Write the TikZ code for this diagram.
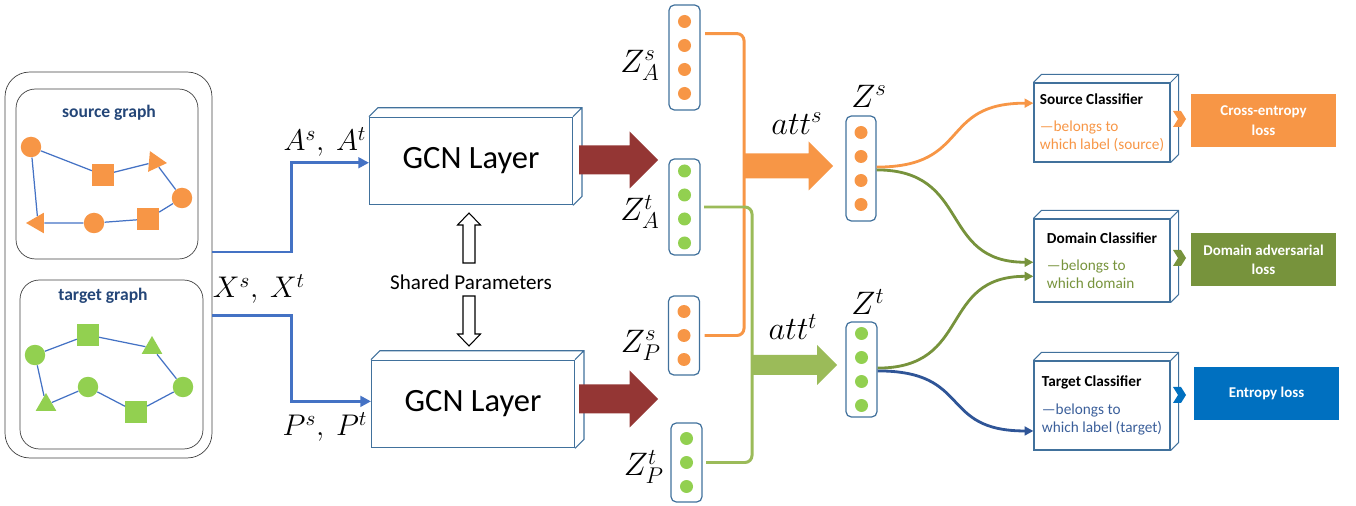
\documentclass[tikz,border=0pt]{standalone}
\usepackage{fix-cm}
\usepackage{fontspec}
\setmainfont{Carlito}
\usetikzlibrary{shapes.geometric, arrows.meta, positioning, calc}
\definecolor{srcorange}{RGB}{247, 150, 70}
\definecolor{tgtgreen}{RGB}{146, 208, 80}
\definecolor{attgreen}{RGB}{155, 187, 89}
\definecolor{domgreen}{RGB}{119, 147, 60}
\definecolor{gcnred}{RGB}{148, 54, 52}
\definecolor{edgeblue}{RGB}{68, 114, 196}
\definecolor{frameblue}{RGB}{65, 113, 156}
\definecolor{titleblue}{RGB}{36, 70, 120}
\definecolor{tgtblue}{RGB}{59, 95, 154}
\definecolor{curveblue}{RGB}{47, 85, 151}
\definecolor{entblue}{RGB}{0, 112, 192}

% side and top faces of a box node
\newcommand{\depthfaces}[2]{%
  \draw[frameblue, line width=0.6pt] (#1.north west) -- ++(#2,-#2) -- ($(#1.north east)+(#2,-#2)$) -- ($(#1.south east)+(#2,-#2)$) -- (#1.south east) (#1.north east) -- ++(#2,-#2);}
% block arrow: colour, x start, x tip, y, shaft half, head half
\newcommand{\fatarrow}[6]{%
  \fill[#1] (#2,#4-#5) -- (#3-#6,#4-#5) -- (#3-#6,#4-#6) -- (#3,#4) -- (#3-#6,#4+#6) -- (#3-#6,#4+#5) -- (#2,#4+#5) -- cycle;}
% small chevron: colour, x, y
\newcommand{\chevron}[3]{%
  \fill[#1] (#2,#3-8) -- (#2+8,#3-8) -- (#2+13,#3) -- (#2+8,#3+8) -- (#2,#3+8) -- (#2+5,#3) -- cycle;}

\begin{document}
\begin{tikzpicture}[
    x=0.02cm, y=-0.02cm,
    gcn/.style={rectangle, draw=frameblue, line width=0.6pt, minimum width=4.06cm, minimum height=1.75cm, font=\fontsize{18.5}{22}\selectfont},
    clf/.style={rectangle, draw=frameblue, line width=0.7pt, minimum width=2.72cm, align=left, inner sep=1pt, font=\fontsize{8.7}{10.2}\selectfont},
    loss/.style={rectangle, minimum width=2.9cm, minimum height=1.08cm, align=center, text=white, font=\fontsize{8.5}{11}\selectfont\bfseries},
    vec/.style={rectangle, rounded corners=3pt, draw=frameblue, line width=0.7pt, minimum width=0.62cm},
    odot/.style={circle, fill=srcorange, minimum size=0.26cm, inner sep=0pt},
    gdot/.style={circle, fill=tgtgreen, minimum size=0.26cm, inner sep=0pt},
    gcirc/.style={circle, inner sep=0pt, minimum size=0.41cm},
    gsq/.style={rectangle, inner sep=0pt, minimum size=0.43cm},
    gtri/.style={regular polygon, regular polygon sides=3, inner sep=0pt, minimum size=0.48cm},
    gedge/.style={edgeblue, line width=0.7pt},
    inarrow/.style={edgeblue, line width=1.7pt, -{Triangle[length=6pt, width=6pt]}},
    mathlbl/.style={font=\fontsize{17}{20}\selectfont},
    zlbl/.style={font=\fontsize{18.5}{21}\selectfont, inner sep=1pt},
    curve/.style={line width=1.6pt, -{Triangle[length=5pt, width=5pt]}}
]
\useasboundingbox (0,0) rectangle (1356,506);

% Input graphs
\node (inputs) [rectangle, draw=black!75, rounded corners=14pt, minimum width=4.14cm, minimum height=7.72cm] at (108.5,265) {};
\node (srcbox) [rectangle, draw=black!75, rounded corners=11pt, minimum width=3.64cm, minimum height=3.4cm] at (107,174) {};
\node (tgtbox) [rectangle, draw=black!75, rounded corners=11pt, minimum width=3.66cm, minimum height=3.38cm] at (111.5,364.5) {};
\node [text=titleblue, font=\fontsize{10}{12}\selectfont\bfseries] at (109,113) {source graph};
\node [text=titleblue, font=\fontsize{10}{12}\selectfont\bfseries] at (103,296) {target graph};

\node (sc1) [gcirc, fill=srcorange] at (31,147) {};
\node (ss1) [gsq, fill=srcorange] at (103,175) {};
\node (st1) [gtri, fill=srcorange, shape border rotate=-95] at (155,162) {};
\node (sc2) [gcirc, fill=srcorange] at (182,198) {};
\node (ss2) [gsq, fill=srcorange] at (148,219) {};
\node (sc3) [gcirc, fill=srcorange] at (94,223) {};
\node (st2) [gtri, fill=srcorange, shape border rotate=90] at (38,223) {};
\draw [gedge] (sc1) -- (ss1) -- (st1) -- (sc2) -- (ss2) -- (sc3) -- (st2) -- (sc1);

\node (tc1) [gcirc, fill=tgtgreen] at (35,355) {};
\node (ts1) [gsq, fill=tgtgreen] at (88,335) {};
\node (tt1) [gtri, fill=tgtgreen] at (152,348) {};
\node (tc2) [gcirc, fill=tgtgreen] at (183,387) {};
\node (ts2) [gsq, fill=tgtgreen] at (136,412) {};
\node (tc3) [gcirc, fill=tgtgreen] at (88,387) {};
\node (tt2) [gtri, fill=tgtgreen] at (46,405) {};
\draw [gedge] (tc1) -- (ts1) -- (tt1) -- (tc2) -- (ts2) -- (tc3) -- (tt2) -- (tc1);

% GCN layers
\node (gcnA) [gcn] at (471,161) {GCN Layer};
\node (gcnP) [gcn] at (473,404) {GCN Layer};
\depthfaces{gcnA}{9}
\depthfaces{gcnP}{9}
\node (shared) [font=\fontsize{12}{14}\selectfont] at (471,282) {Shared Parameters};
\draw [fill=white, line width=0.6pt] (463,263) -- (463,225) -- (457.5,225) -- (469,213) -- (480.5,225) -- (475,225) -- (475,263) -- cycle;
\draw [fill=white, line width=0.6pt] (463,296) -- (463,334) -- (457.5,334) -- (469,346) -- (480.5,334) -- (475,334) -- (475,296) -- cycle;

\draw [inarrow] ([yshift=7.4pt]inputs.east) -- ++(79,0) |- ([yshift=-1pt]gcnA.west);
\draw [inarrow] ([yshift=-28.9pt]inputs.east) -- ++(79,0) |- ([yshift=1.5pt]gcnP.west);
\node [mathlbl] at (325,142) {$A^s,\ A^t$};
\node [mathlbl] at (259,289) {$X^s,\ X^t$};
\node [mathlbl] at (325,427) {$P^s,\ P^t$};

\fatarrow{gcnred}{579}{658}{160}{14.5}{28.5}
\fatarrow{gcnred}{579}{658}{399}{14.5}{28.5}

% Embeddings
\node (zas) [vec, minimum height=2.1cm] at (684.5,57.5) {};
\foreach \d [count=\i] in {-36,-12,12,36} \node (zas\i) [odot] at (684.5,57.5+\d) {};
\node (zat) [vec, minimum height=1.92cm] at (684.5,207) {};
\foreach \d [count=\i] in {-36,-12,12,36} \node (zat\i) [gdot] at (684.5,207+\d) {};
\node (zps) [vec, minimum height=1.58cm] at (684,335.5) {};
\foreach \d [count=\i] in {-24,0,24} \node (zps\i) [odot] at (684,335.5+\d) {};
\node (zpt) [vec, minimum height=1.58cm] at (686.5,462.5) {};
\foreach \d [count=\i] in {-24,0,24} \node (zpt\i) [gdot] at (686.5,462.5+\d) {};
\node [zlbl] at (640,65) {$Z_A^s$};
\node [zlbl] at (640,212) {$Z_A^t$};
\node [zlbl] at (641,345) {$Z_P^s$};
\node [zlbl] at (644,467) {$Z_P^t$};

% Attention
\draw [srcorange, line width=1.7pt, rounded corners=4pt, shorten <=2.5pt, shorten >=2.5pt] ([yshift=13.6pt]zas.east) -| (744,166) |- (zps.east);
\draw [attgreen, line width=1.7pt, rounded corners=4pt, shorten <=2pt, shorten >=2pt] (zat.east) -| (752,365) |- (zpt.east);
\fatarrow{srcorange}{743}{833}{166}{12.5}{24.5}
\fatarrow{attgreen}{752}{837}{365}{10}{20}
\node [font=\fontsize{18.5}{21}\selectfont] at (797,124) {$att^s$};
\node [font=\fontsize{18.5}{21}\selectfont] at (793,327) {$att^t$};

\node (zs) [vec, minimum height=2.1cm, minimum width=0.6cm] at (861,168.5) {};
\foreach \d [count=\i] in {-36,-12,12,36} \node (zs\i) [odot] at (861,168.5+\d) {};
\node (zt) [vec, minimum height=1.9cm] at (861.5,369.5) {};
\foreach \d [count=\i] in {-36,-12,12,36} \node (zt\i) [gdot] at (861.5,369.5+\d) {};
\node [zlbl] at (869,96) {$Z^s$};
\node [zlbl] at (868,302) {$Z^t$};

% Classifiers
\node (srcclf) [clf, minimum height=1.58cm] at (1102,122.5) {\textbf{Source Classifier}\\[5.5pt]{\color{srcorange}—belongs to}\\{\color{srcorange}which label (source)}};
\node (domclf) [clf, minimum height=1.66cm] at (1102,260.5) {\textbf{Domain Classifier}\\[5.5pt]{\color{domgreen}—belongs to}\\{\color{domgreen}which domain}};
\node (tgtclf) [clf, minimum height=1.78cm] at (1102,405.5) {\textbf{Target Classifier}\\[5.5pt]{\color{tgtblue}—belongs to}\\{\color{tgtblue}which label (target)}};
\depthfaces{srcclf}{8}
\depthfaces{domclf}{8}
\depthfaces{tgtclf}{8}

\draw [curve, srcorange] ([yshift=0.8pt]zs.east) .. controls +(95,0) and +(-95,0) .. ([yshift=11pt]srcclf.west);
\draw [curve, domgreen] ([yshift=-0.8pt]zs.east) .. controls +(95,0) and +(-95,0) .. ([yshift=-1pt]domclf.west);
\draw [curve, domgreen] ([yshift=0.8pt]zt.east) .. controls +(95,0) and +(-95,0) .. ([yshift=-9pt]domclf.west);
\draw [curve, curveblue] ([yshift=-0.8pt]zt.east) .. controls +(95,0) and +(-95,0) .. ([yshift=-14.5pt]tgtclf.west);

% Losses
\chevron{srcorange}{1173}{119}
\chevron{domgreen}{1173}{258}
\chevron{entblue}{1173}{395}
\node (celoss) [loss, fill=srcorange] at (1263.5,120.5) {Cross-entropy\\loss};
\node (daloss) [loss, fill=domgreen] at (1263.5,259.5) {Domain adversarial\\loss};
\node (entloss) [loss, fill=entblue] at (1266.5,393.5) {Entropy loss};

\end{tikzpicture}
\end{document}
